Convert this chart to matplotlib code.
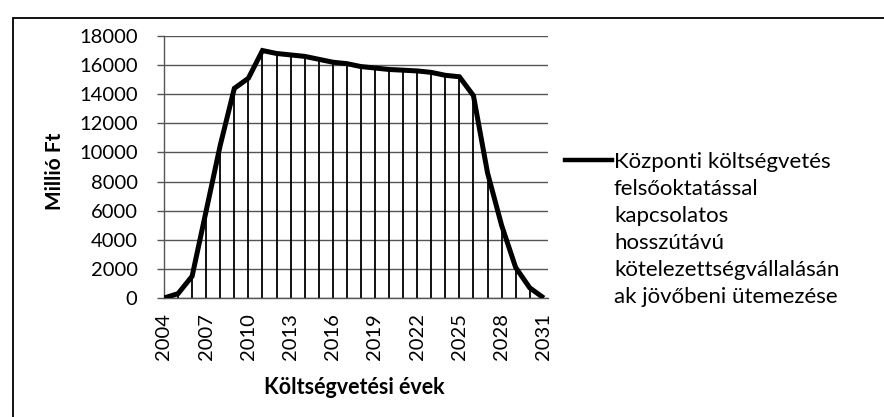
import matplotlib
matplotlib.use("Agg")
import matplotlib.pyplot as plt
from matplotlib.patches import Rectangle

years = list(range(2004, 2032))
values = [0, 300, 1500, 6000, 10500, 14400, 15100, 17000, 16800, 16700,
          16600, 16400, 16200, 16100, 15900, 15800, 15700, 15650, 15600,
          15500, 15300, 15200, 13900, 8600, 5000, 2100, 700, 0]
xtick_years = list(range(2004, 2032, 3))
yticks = list(range(0, 18001, 2000))
series_lines = ["Központi költségvetés", "felsőoktatással", "kapcsolatos",
                "hosszútávú", "kötelezettségvállalásán", "ak jövőbeni ütemezése"]

plt.rcParams['font.family'] = ['Lato', 'DejaVu Sans']

fig = plt.figure(figsize=(8.84, 4.17), dpi=100)
W, H = 884, 417
ax = fig.add_axes([164 / W, 1 - 298 / H, (548 - 164) / W, (298 - 36) / H])

# horizontal gridlines
ax.set_axisbelow(True)
ax.yaxis.grid(True, color='#555555', linewidth=1.0)
ax.xaxis.grid(False)

# drop lines
ax.vlines(years, 0, values, colors='black', linewidth=1.3, zorder=2)
# data line
line, = ax.plot(years, values, color='black', linewidth=3.6, zorder=3,
                solid_joinstyle='miter', solid_capstyle='butt')

ax.set_xlim(2004, 2031.3)
ax.set_ylim(0, 18000)
ax.set_yticks(yticks)
ax.set_yticklabels([str(v) for v in yticks])
ax.set_xticks(xtick_years)
ax.set_xticklabels([str(y) for y in xtick_years], rotation=90)
ax.tick_params(axis='y', length=5, width=1.0, color='#555555', pad=14, labelsize=14.5)
ax.tick_params(axis='x', length=0, pad=11, labelsize=14.5)

for s in ['top', 'right']:
    ax.spines[s].set_visible(False)
ax.spines['left'].set_color('#555555')
ax.spines['bottom'].set_color('#555555')
ax.spines['left'].set_linewidth(1.0)
ax.spines['bottom'].set_linewidth(1.0)

fig.text(55 / W, 1 - 171 / H, "Millió Ft", rotation=90, ha='center', va='center',
         fontsize=15, fontweight='bold')
fig.text(354 / W, 1 - 387 / H, "Költségvetési évek", ha='center', va='center',
         fontsize=15.5, fontweight='bold')

# legend drawn manually to mimic layout
fig.lines.append(plt.Line2D([565 / W, 612 / W], [1 - 160 / H, 1 - 160 / H],
                            transform=fig.transFigure, color='black', linewidth=3.2))
row_centers = [162, 189, 216, 243, 270, 297]
for txt, yc in zip(series_lines, row_centers):
    fig.text(614 / W, 1 - (yc + 6) / H, txt, ha='left', va='baseline', fontsize=16)

# chart border
fig.patches.append(Rectangle((13 / W, -0.1), 1.2, (1 - 18 / H) + 0.1,
                             transform=fig.transFigure, fill=False,
                             edgecolor='black', linewidth=1.3))

fig.savefig('out.png', dpi=100)
